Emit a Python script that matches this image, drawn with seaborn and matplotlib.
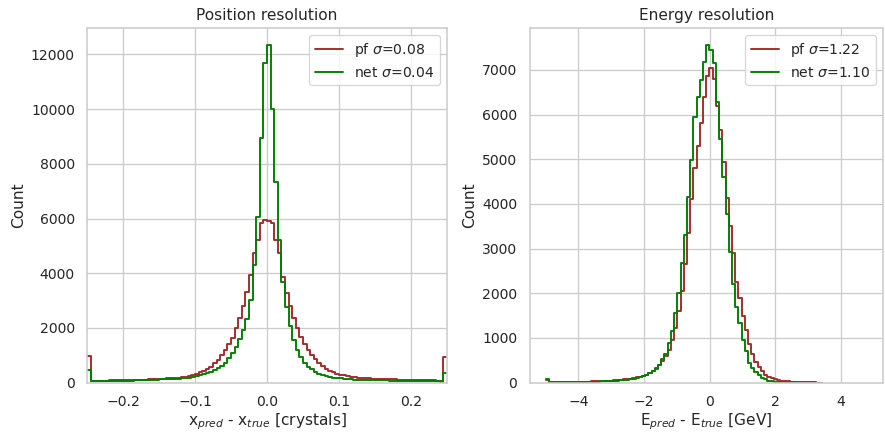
import numpy as np
import pandas as pd
import matplotlib
matplotlib.use("Agg")
import matplotlib.pyplot as plt
import seaborn as sns

# ---------------------------------------------------------------------------
# Histogram contents (counts per bin, 100 bins each)
# ---------------------------------------------------------------------------
POS_RANGE = (-0.25, 0.25)      # position residuals, clipped into the edge bins
ENERGY_RANGE = (-5.0, 4.8)     # energy residuals
N_BINS = 100

pos_pf = [
    975,
    70, 70, 72, 75, 75, 78, 80, 82, 88,
    95, 98, 100, 103, 105, 108, 112, 115, 120, 125,
    130, 140, 150, 160, 170, 180, 205, 215, 240, 280,
    330, 370, 425, 500, 580, 700, 830, 1010, 1190, 1400,
    1640, 1990, 2350, 2800, 3300, 3940, 4730, 5220, 5830, 5950,
    5900, 5850, 5200, 4750, 3870, 3280, 2800, 2350, 1990, 1650,
    1420, 1200, 1020, 850, 720, 600, 510, 440, 380, 330,
    290, 260, 235, 215, 200, 185, 175, 165, 155, 145,
    140, 135, 130, 125, 120, 115, 112, 108, 104, 100,
    96, 92, 88, 85, 82, 80, 78, 75, 72,
    950,
]

pos_net = [
    460,
    45, 45, 48, 50, 52, 55, 58, 60, 65,
    70, 72, 75, 78, 80, 85, 88, 92, 98, 105,
    115, 120, 125, 130, 140, 148, 158, 170, 185, 205,
    240, 275, 310, 350, 395, 455, 520, 620, 730, 890,
    1070, 1315, 1600, 1925, 2320, 3020, 4300, 6050, 8940, 11680,
    12350, 10000, 7350, 5220, 3690, 2780, 2080, 1560, 1190, 920,
    705, 570, 480, 390, 320, 270, 230, 200, 180, 165,
    150, 140, 130, 120, 110, 100, 95, 92, 90, 88,
    85, 82, 80, 78, 75, 72, 70, 68, 65, 62,
    60, 58, 55, 52, 50, 48, 45, 42, 40,
    350,
]

energy_pf = [
    50,
    8, 6, 8, 10, 10, 12, 12, 14, 14, 16,
    18, 20, 22, 25, 28, 30, 32, 36, 40, 45,
    50, 55, 62, 70, 78,
    88, 100, 115, 132, 150, 180, 220, 270, 320, 400,
    490, 600, 740, 950, 1220, 1600, 2040, 2650, 3350, 4100,
    4800, 5300, 5820, 6400, 6870, 7040, 6800, 6200, 5650, 4930,
    4130, 3510, 2910, 2250, 1900, 1500, 1180, 870, 650, 470,
    345, 255, 180, 130, 100, 75, 58, 45, 36, 28,
    22, 17, 12, 9, 7, 5, 4, 3, 2, 2,
    0, 0, 0, 0, 0, 0, 0, 0, 0, 0,
    0, 0, 0, 0,
]

energy_net = [
    80,
    5, 4, 6, 6, 8, 8, 10, 10, 12, 12,
    14, 15, 18, 20, 22, 24, 26, 28, 32, 36,
    40, 45, 50, 55, 62,
    72, 85, 100, 118, 140, 170, 220, 270, 310, 400,
    520, 640, 880, 1150, 1550, 2000, 2670, 3300, 4150, 4990,
    5950, 6400, 6770, 7180, 7560, 7450, 7150, 6290, 5450, 4610,
    3780, 2930, 2200, 1700, 1340, 950, 710, 440, 320, 240,
    165, 110, 70, 45, 25, 18, 13, 10, 7, 5,
    4, 3, 2, 2, 0, 0, 0, 0, 0, 0,
    0, 0, 0, 0, 0, 0, 0, 0, 0, 0,
    0, 0, 0, 0,
]

pos_labels = [r"pf $\sigma$=0.08", r"net $\sigma$=0.04"]
energy_labels = [r"pf $\sigma$=1.22", r"net $\sigma$=1.10"]
colors = ["brown", "green"]

# ---------------------------------------------------------------------------
sns.set_theme(style="whitegrid")

DPI = 92
W, H = 885, 432
fig = plt.figure(figsize=(W / DPI, H / DPI), dpi=DPI)
bottom = (H - 382.6) / H
height = (382.6 - 28) / H
ax_pos = fig.add_axes([87 / W, bottom, 360 / W, height])
ax_en = fig.add_axes([529.5 / W, bottom, 353.5 / W, height])


def step_hist(ax, lo, hi, counts, color, label):
    edges = np.linspace(lo, hi, N_BINS + 1)
    counts = np.asarray(counts, dtype=float)
    # stop the outline after the last populated bin
    last = int(np.nonzero(counts)[0].max()) + 1
    edges, counts = edges[:last + 1], counts[:last]
    frame = pd.DataFrame({
        "center": 0.5 * (edges[:-1] + edges[1:]),
        "count": counts,
    })
    sns.histplot(data=frame, x="center", weights="count",
                 bins=list(edges), element="step", fill=False,
                 color=color, label=label, linewidth=1.5, ax=ax)


for counts, color, label in zip([pos_pf, pos_net], colors, pos_labels):
    step_hist(ax_pos, *POS_RANGE, counts, color, label)
ax_pos.set_xlim(*POS_RANGE)
ax_pos.set_title("Position resolution")
ax_pos.set_xlabel(r"x$_{pred}$ - x$_{true}$ [crystals]", labelpad=2)
ax_pos.set_ylabel("Count")
ax_pos.legend(loc="upper right")

for counts, color, label in zip([energy_pf, energy_net], colors, energy_labels):
    step_hist(ax_en, *ENERGY_RANGE, counts, color, label)
span = ENERGY_RANGE[1] - ENERGY_RANGE[0]
ax_en.set_xlim(ENERGY_RANGE[0] - 0.05 * span, ENERGY_RANGE[1] + 0.05 * span)
ax_en.set_title("Energy resolution")
ax_en.set_xlabel(r"E$_{pred}$ - E$_{true}$ [GeV]", labelpad=2)
ax_en.set_ylabel("Count")
ax_en.legend(loc="upper right")

fig.savefig("out.png", dpi=DPI)
